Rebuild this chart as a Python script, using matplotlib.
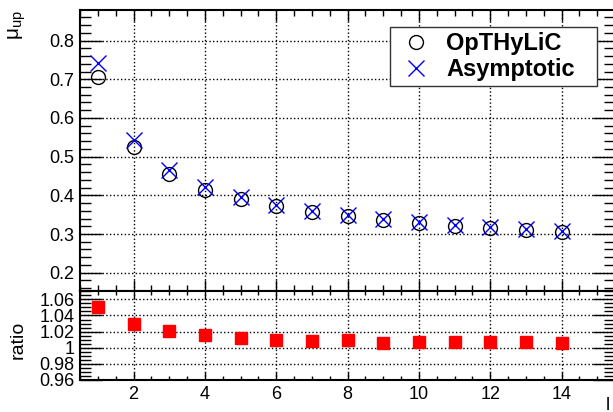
import matplotlib
matplotlib.use('Agg')
import matplotlib.pyplot as plt
from matplotlib.ticker import MultipleLocator

plt.rcParams['font.family'] = ['Liberation Sans', 'DejaVu Sans']
plt.rcParams['mathtext.fontset'] = 'custom'
plt.rcParams['mathtext.rm'] = 'Liberation Sans'
plt.rcParams['mathtext.it'] = 'Liberation Sans:italic'

# valeurs
l_values = [1, 2, 3, 4, 5, 6, 7, 8, 9, 10, 11, 12, 13, 14]
opthylic = [0.705, 0.526, 0.454, 0.414, 0.390, 0.372, 0.357, 0.346, 0.337,
            0.328, 0.322, 0.316, 0.310, 0.306]
asymptotic = [0.741, 0.543, 0.465, 0.421, 0.395, 0.376, 0.360, 0.349, 0.339,
              0.331, 0.324, 0.318, 0.312, 0.308]
ratio = [1.0505, 1.0295, 1.0204, 1.016, 1.0125, 1.0098, 1.0083, 1.009, 1.006,
         1.0075, 1.0074, 1.0074, 1.007, 1.0058]

fig = plt.figure(figsize=(6.13, 4.12), dpi=100)
left, right = 80 / 613, 615 / 613
y_mid = 1 - 290.5 / 412
ax = fig.add_axes([left, y_mid, right - left, (1 - 10 / 412) - y_mid])
axr = fig.add_axes([left, 1 - 380 / 412, right - left, y_mid - (1 - 380 / 412)], sharex=ax)

#Верхняя панель
ax.plot(l_values, opthylic, 'o', mfc='none', mec='black', ms=10, mew=1.0, label='OpTHyLiC')
ax.plot(l_values, asymptotic, 'x', color='blue', ms=11, mew=1.0, label='Asymptotic')
ax.set_xlim(0.5, 15.5)
ax.set_ylim(0.154, 0.879)
ax.yaxis.set_major_locator(MultipleLocator(0.1))
ax.yaxis.set_minor_locator(MultipleLocator(0.02))
ax.xaxis.set_major_locator(MultipleLocator(2))
ax.xaxis.set_minor_locator(MultipleLocator(0.5))
ax.tick_params(labelbottom=False)
leg = ax.legend(loc='upper left', bbox_to_anchor=(0.579, 0.729, 0.387, 0.21), mode='expand',
                borderaxespad=0, prop={'weight': 'bold', 'size': 17}, fancybox=False,
                framealpha=1, edgecolor='#333333', handletextpad=0.4, borderpad=0.2,
                labelspacing=0.15, handlelength=1.8)
leg.get_frame().set_linewidth(1.0)

#Нижняя панель
axr.plot(l_values, ratio, 's', color='red', ms=8)
axr.set_ylim(0.96, 1.071)
axr.set_yticks([0.96, 0.98, 1.0, 1.02, 1.04, 1.06])
axr.set_yticklabels(['0.96', '0.98', '1', '1.02', '1.04', '1.06'])
axr.yaxis.set_minor_locator(MultipleLocator(0.005))

for a, xl, xm in [(ax, 8, 4), (axr, 6, 3)]:
    a.grid(True, which='major', linestyle=':', color='black', linewidth=1.0)
    a.set_axisbelow(True)
    a.tick_params(axis='both', which='both', direction='in', top=True, right=True,
                  labelsize=13, width=1.0, pad=4)
    a.tick_params(axis='y', which='major', length=16)
    a.tick_params(axis='y', which='minor', length=8)
    a.tick_params(axis='x', which='major', length=xl)
    a.tick_params(axis='x', which='minor', length=xm)
    for s in a.spines.values():
        s.set_linewidth(1.5)

fig.text(0.028, 0.975, 'μ$_{\\mathrm{up}}$', rotation=90, ha='center', va='top', fontsize=15)
fig.text(0.03, 1 - 340 / 412, 'ratio', rotation=90, ha='center', va='center', fontsize=14)
fig.text(608 / 613, 1 - 405 / 412, 'l', ha='center', va='center', fontsize=13)

fig.savefig('out.png', dpi=100)
